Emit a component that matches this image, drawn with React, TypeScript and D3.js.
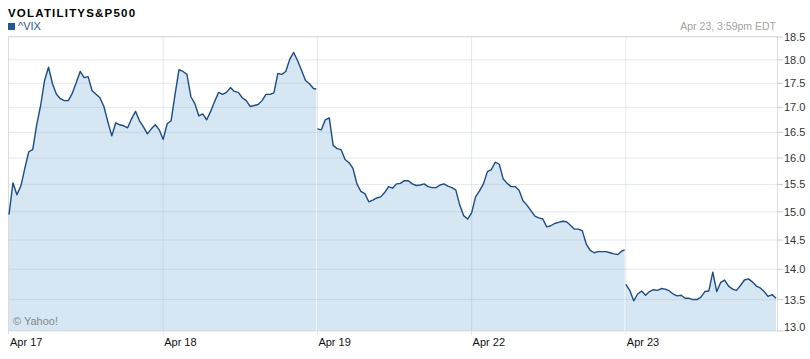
import React from "react";
import * as d3 from "d3";

const title = "VOLATILITYS&P500";
const seriesName = "^VIX";
const timestamp = "Apr 23, 3:59pm EDT";
const credit = "© Yahoo!";
const dayLabels = ["Apr 17", "Apr 18", "Apr 19", "Apr 22", "Apr 23"];
const yTicks = [13.0, 13.5, 14.0, 14.5, 15.0, 15.5, 16.0, 16.5, 17.0, 17.5, 18.0, 18.5];

// ^VIX sampled every 10 minutes from the 9:30 open (last value of a day = close)
const apr17 = [14.95, 15.53, 15.31, 15.47, 15.8, 16.12, 16.16, 16.65, 17.04, 17.56, 17.84, 17.49, 17.27, 17.18, 17.14, 17.14, 17.29, 17.51, 17.75, 17.62, 17.64, 17.35, 17.27, 17.2, 17.02, 16.71, 16.43, 16.69, 16.65, 16.63, 16.59, 16.77, 16.92, 16.73, 16.61, 16.47, 16.57, 16.65, 16.55];
const apr18 = [16.36, 16.67, 16.73, 17.27, 17.79, 17.75, 17.69, 17.22, 17.08, 16.83, 16.87, 16.75, 16.92, 17.12, 17.31, 17.27, 17.31, 17.41, 17.33, 17.31, 17.2, 17.14, 17.02, 17.04, 17.06, 17.14, 17.27, 17.27, 17.3, 17.71, 17.69, 17.75, 18.01, 18.16, 17.98, 17.77, 17.56, 17.49, 17.39, 17.38];
const apr19 = [16.57, 16.55, 16.75, 16.79, 16.24, 16.18, 16.16, 15.97, 15.91, 15.8, 15.51, 15.37, 15.33, 15.18, 15.21, 15.25, 15.27, 15.35, 15.46, 15.43, 15.51, 15.52, 15.57, 15.57, 15.51, 15.48, 15.49, 15.51, 15.46, 15.44, 15.44, 15.49, 15.51, 15.47, 15.44, 15.4, 15.12, 14.93, 14.87];
const apr22 = [14.98, 15.27, 15.38, 15.51, 15.74, 15.78, 15.92, 15.88, 15.6, 15.52, 15.46, 15.46, 15.39, 15.2, 15.12, 15.02, 14.92, 14.89, 14.87, 14.73, 14.75, 14.79, 14.81, 14.83, 14.82, 14.76, 14.69, 14.69, 14.66, 14.43, 14.32, 14.28, 14.3, 14.3, 14.3, 14.28, 14.26, 14.25, 14.31, 14.33];
const apr23 = [13.75, 13.65, 13.48, 13.59, 13.64, 13.57, 13.63, 13.66, 13.65, 13.68, 13.67, 13.64, 13.59, 13.56, 13.57, 13.52, 13.52, 13.5, 13.5, 13.54, 13.63, 13.64, 13.95, 13.63, 13.78, 13.82, 13.72, 13.67, 13.65, 13.73, 13.82, 13.84, 13.79, 13.72, 13.69, 13.63, 13.55, 13.58, 13.52];

const days = [apr17, apr18, apr19, apr22, apr23];
// runs of days drawn as one unbroken line
const sessions = [[0, 1], [2, 3], [4]];
const STEP_MIN = 10;
const DAY_MIN = 390;
const LAST_MIN = 387;

type Pt = { t: number; v: number };

export default function App() {
  const W = 810;
  const H = 359;
  const plotLeft = 8;
  const plotRight = 777;
  const plotTop = 36;
  const plotBottom = 331;

  const x = d3.scaleLinear().domain([0, days.length * DAY_MIN]).range([9, 780]);
  const y = d3.scaleLog().domain([13, 18.5]).range([plotBottom, 37]);

  const runs: Pt[][] = sessions.map((run) =>
    run.flatMap((d) =>
      days[d].map((v, i) => ({ t: d * DAY_MIN + Math.min(i * STEP_MIN, LAST_MIN), v }))
    )
  );

  const area = d3
    .area<Pt>()
    .x((d) => x(d.t))
    .y0(plotBottom)
    .y1((d) => y(d.v));
  const line = d3
    .line<Pt>()
    .x((d) => x(d.t))
    .y((d) => y(d.v));

  const font = "'Liberation Sans', Arial, Helvetica, sans-serif";
  const grid = "rgba(150,170,195,0.25)";

  return (
    <svg
      width={W}
      height={H}
      style={{ position: "absolute", left: 0, top: 0, background: "#fff" }}
      fontFamily={font}
    >
      <text x={8} y={17} fontSize={11.5} fontWeight="bold" letterSpacing={1.2} fill="#000">
        {title}
      </text>
      <rect x={8} y={23} width={7} height={7} fill="#1f5a96" />
      <text x={18} y={29.5} fontSize={11} fill="#1f5a96">
        {seriesName}
      </text>
      <text x={776} y={30} fontSize={10.5} fill="#a3a3a3" textAnchor="end">
        {timestamp}
      </text>

      {runs.map((r, i) => (
        <path key={"a" + i} d={area(r) || ""} fill="#d6e6f2" />
      ))}

      {yTicks.map((t) => (
        <line key={"g" + t} x1={plotLeft} x2={plotRight} y1={y(t)} y2={y(t)} stroke={grid} strokeWidth={1} />
      ))}
      {dayLabels.map((lab, i) =>
        i === 0 ? null : (
          <line key={"v" + lab} x1={x(i * DAY_MIN)} x2={x(i * DAY_MIN)} y1={plotTop} y2={335} stroke={grid} strokeWidth={1} />
        )
      )}

      <line x1={plotLeft} x2={plotRight} y1={plotTop + 0.5} y2={plotTop + 0.5} stroke="#dcdcdc" />
      <line x1={plotLeft + 0.5} x2={plotLeft + 0.5} y1={plotTop} y2={334} stroke="#dcdcdc" />
      <line x1={plotRight + 0.5} x2={plotRight + 0.5} y1={plotTop} y2={plotBottom} stroke="#dcdcdc" />

      {runs.map((r, i) => (
        <path key={"l" + i} d={line(r) || ""} fill="none" stroke="#1a4c87" strokeWidth={1.4} strokeLinejoin="round" />
      ))}

      {yTicks.map((t) => (
        <g key={"t" + t}>
          <line x1={plotRight} x2={plotRight + 6} y1={y(t)} y2={y(t)} stroke="#cccccc" />
          <text x={784} y={Math.min(y(t) + 4, plotBottom)} fontSize={11} fill="#333">
            {t.toFixed(1)}
          </text>
        </g>
      ))}

      {dayLabels.map((lab, i) => (
        <text key={"x" + lab} x={x(i * DAY_MIN) + 1} y={346} fontSize={11} fill="#111">
          {lab}
        </text>
      ))}

      <text x={13} y={325} fontSize={11} fill="#888">
        {credit}
      </text>
    </svg>
  );
}
